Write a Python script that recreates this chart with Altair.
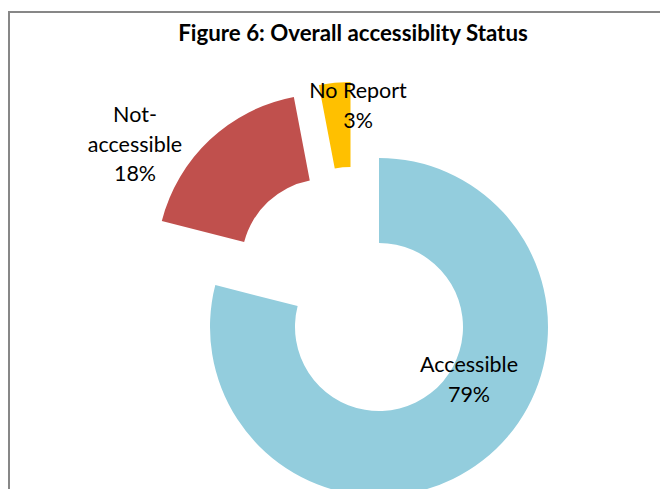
import math
import altair as alt
import numpy as np
import pandas as pd

# ---- data ----
categories = ["Accessible", "Not-accessible", "No Report"]
values = [79, 18, 3]
labels = ["Accessible\n79%", "Not-\naccessible\n18%", "No Report\n3%"]
colors = ["#93CDDD", "#C0504D", "#FFC000"]
title_text = "Figure 6: Overall accessiblity Status"

ends = list(np.cumsum(values))
starts = [e - v for e, v in zip(ends, values)]
df = pd.DataFrame({"category": categories, "value": values, "start": starts,
                   "end": ends, "label": labels})

# ---- layout (slice centres incl. explode, label anchors) ----
W, H = 652, 478
centers = {"Accessible": (371, 316), "Not-accessible": (317.5, 252), "No Report": (342.5, 240)}
label_pos = {"Accessible": (461, 355), "Not-accessible": (127, 105), "No Report": (350, 81)}
OUTER, INNER = 169, 84
FONT = "Lato"

theta_scale = alt.Scale(domain=[0, 100], range=[0, 2 * math.pi])
color_scale = alt.Scale(domain=categories, range=colors)

arcs = []
texts = []
for cat in categories:
    cx, cy = centers[cat]
    arcs.append(
        alt.Chart(df).transform_filter(alt.datum.category == cat)
        .mark_arc(outerRadius=OUTER, innerRadius=INNER)
        .encode(
            x=alt.value(cx), y=alt.value(cy),
            theta=alt.Theta("start:Q", scale=theta_scale),
            theta2="end:Q",
            color=alt.Color("category:N", scale=color_scale, legend=None),
        )
    )
    lx, ly = label_pos[cat]
    texts.append(
        alt.Chart(df).transform_filter(alt.datum.category == cat)
        .mark_text(lineBreak="\n", lineHeight=29.5, font=FONT, fontSize=21.5,
                   color="black", align="center", baseline="middle")
        .encode(x=alt.value(lx), y=alt.value(ly), text="label:N")
    )

title = (
    alt.Chart(pd.DataFrame({"t": [title_text]}))
    .mark_text(font=FONT, fontSize=22.3, fontWeight="bold", color="black",
               align="center", baseline="alphabetic")
    .encode(x=alt.value(345), y=alt.value(30), text="t:N")
)

border_left = alt.Chart(pd.DataFrame({"t": [0]})).mark_rule(
    color="#878787", strokeWidth=2).encode(
    x=alt.value(1), y=alt.value(0), y2=alt.value(H))
border_top = alt.Chart(pd.DataFrame({"t": [0]})).mark_rule(
    color="#878787", strokeWidth=2).encode(
    x=alt.value(0), x2=alt.value(W), y=alt.value(1))

chart = (
    alt.layer(border_left, border_top, *arcs, *texts, title)
    .properties(width=W, height=H, autosize=alt.AutoSizeParams(type="none"),
                padding={"left": 0, "top": 3, "right": 0, "bottom": 0})
    .configure_view(stroke=None)
)

chart.save("out.html", embed_options={"renderer": "svg", "actions": False})
